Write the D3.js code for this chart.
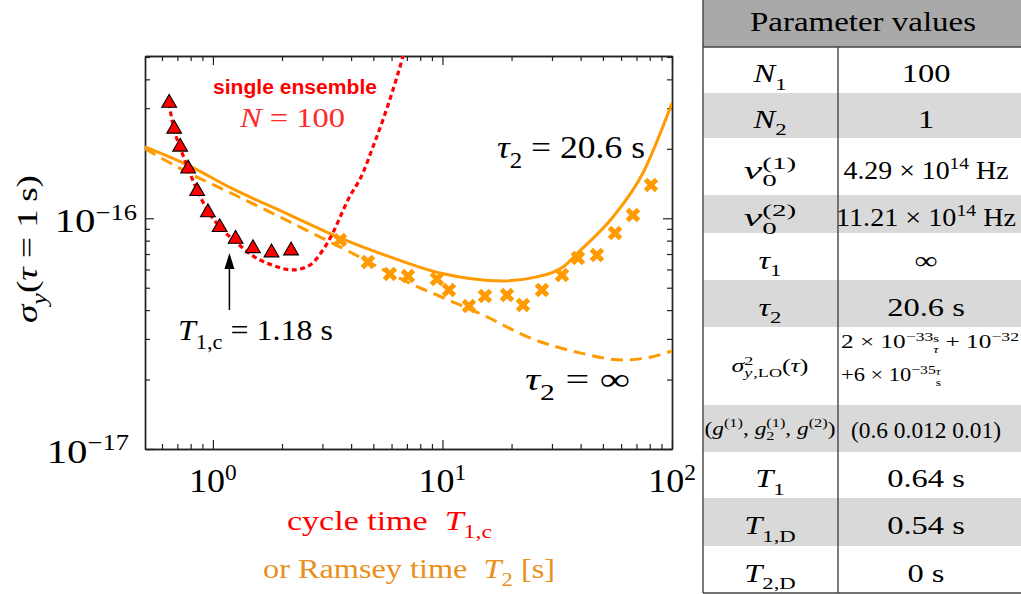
<!DOCTYPE html>
<html>
<head>
<meta charset="utf-8">
<script src="https://cdn.jsdelivr.net/npm/d3@7"></script>
<style>
body { margin: 0; background: #fff; }
</style>
</head>
<body>
<div id="chart"></div>
<script>
// measured points: single ensemble (red triangles)
var cycleTimes = [0.645, 0.678, 0.72, 0.78, 0.854, 0.951, 1.07, 1.256, 1.494, 1.80, 2.19];
var cycleSigma = [3.16e-16, 2.44e-16, 2.04e-16, 1.64e-16, 1.31e-16, 1.06e-16, 9.14e-17, 8.13e-17, 7.41e-17, 7.1e-17, 7.24e-17];

// measured points: Ramsey time (orange crosses)
var ramseyTimes = [3.576, 4.736, 5.905, 7.074, 9.46, 10.67, 13.05, 15.32, 19.1, 22.43, 27.14, 33.17, 38.95, 47.1, 56.45, 67.6, 81.0];
var ramseySigma = [8.05e-17, 6.46e-17, 5.73e-17, 5.62e-17, 5.46e-17, 4.89e-17, 4.17e-17, 4.6e-17, 4.65e-17, 4.21e-17, 4.89e-17, 5.68e-17, 6.73e-17, 6.93e-17, 8.64e-17, 1.033e-16, 1.394e-16];

// model curve, single ensemble N = 100 (red dotted)
var singleT = [0.643, 0.676, 0.718, 0.778, 0.852, 0.951, 1.073, 1.26, 1.494, 1.807, 2.232, 2.647, 3.016, 3.334, 3.648, 3.874, 4.505, 4.98, 5.505, 6.026, 6.73, 6.93];
var singleSigma = [3.16e-16, 2.44e-16, 2.04e-16, 1.65e-16, 1.33e-16, 1.076e-16, 9.17e-17, 7.89e-17, 6.87e-17, 6.27e-17, 5.97e-17, 6.27e-17, 7.29e-17, 8.64e-17, 1.054e-16, 1.2e-16, 1.572e-16, 2.04e-16, 2.67e-16, 3.49e-16, 5.05e-16, 5.64e-16];

// model curve, tau2 = 20.6 s (orange solid)
var tau2T = [0.5055, 0.778, 1.222, 2.165, 3.576, 5.905, 9.75, 18.35, 25.8, 33.5, 39.7, 55.3, 74.7, 100];
var tau2Sigma = [2.04e-16, 1.70e-16, 1.34e-16, 1.033e-16, 8.22e-17, 6.80e-17, 5.79e-17, 5.35e-17, 5.57e-17, 6.15e-17, 7.22e-17, 1.013e-16, 1.572e-16, 3.16e-16];

// model curve, tau2 = infinity (orange dashed)
var tauInfT = [0.5055, 0.770, 1.222, 2.165, 2.647, 3.954, 7.98, 9.46, 11.92, 15.02, 24.06, 39.72, 61.2, 80.2, 100];
var tauInfSigma = [2.0e-16, 1.588e-16, 1.274e-16, 9.64e-17, 8.72e-17, 7.14e-17, 4.99e-17, 4.65e-17, 4.21e-17, 3.81e-17, 3.03e-17, 2.61e-17, 2.43e-17, 2.50e-17, 2.66e-17];

var optimalCycle = 1.18;

var xMajor = [1, 10, 100];
var xMinor = [0.6, 0.7, 0.8, 0.9, 2, 3, 4, 5, 6, 7, 8, 9, 20, 30, 40, 50, 60, 70, 80, 90];
var yMajor = [1e-17, 1e-16];
var yMinor = [2e-17, 3e-17, 4e-17, 5e-17, 6e-17, 7e-17, 8e-17, 9e-17, 2e-16, 3e-16, 4e-16, 5e-16];

// rich text helpers
function T(t) { return {t: t}; }
function I(t) { return {t: t, i: 1}; }
function SUB(t, it) { return {t: t, lv: 0.3, sz: 0.7, i: it}; }
function SUP(t) { return {t: t, lv: -0.4, sz: 0.7}; }
function SUBB(t, it) { return {t: t, lv: 0.3, sz: 0.7, i: it, back: 1}; }
function NUM(t, it) { return {t: t, lv: -0.35, sz: 0.6, i: it}; }
function DEN(t, it) { return {t: t, lv: 0.3, sz: 0.6, i: it, back: 1}; }

var paramHeader = "Parameter values";
var paramNames = [
    [I("N"), SUB("1")],
    [I("N"), SUB("2")],
    [I("ν"), SUP("(1)"), SUBB("0")],
    [I("ν"), SUP("(2)"), SUBB("0")],
    [I("τ"), SUB("1")],
    [I("τ"), SUB("2")],
    [I("σ"), SUP("2"), SUBB("y", 1), SUB(",LO"), T("("), I("τ"), T(")")],
    [T("("), I("g"), SUP("(1)"), T(", "), I("g"), SUP("(1)"), SUBB("2"), T(", "), I("g"), SUP("(2)"), T(")")],
    [I("T"), SUB("1")],
    [I("T"), SUB("1,D")],
    [I("T"), SUB("2,D")]
];
var paramValues = [
    [[T("100")]],
    [[T("1")]],
    [[T("4.29 × 10"), SUP("14"), T("\u00a0Hz")]],
    [[T("11.21 × 10"), SUP("14"), T("\u00a0Hz")]],
    [[T("∞")]],
    [[T("20.6\u00a0s")]],
    [[T("2 × 10"), SUP("−33"), NUM("s"), DEN("τ", 1), T(" + 10"), SUP("−32")],
     [T("+6 × 10"), SUP("−35"), NUM("τ", 1), DEN("s")]],
    [[T("(0.6 0.012 0.01)")]],
    [[T("0.64\u00a0s")]],
    [[T("0.54\u00a0s")]],
    [[T("0\u00a0s")]]
];

var serif = "'Liberation Serif', 'Times New Roman', Times, serif";

// builds sub/superscripts as tspans; len = exact width, or stretch = factor on natural width
function rich(sel, segs, fs, len, stretch) {
    var level = 0, prevLen = 0, pend = 0;
    sel.attr("font-family", serif);
    segs.forEach(function(s) {
        var target = (s.lv || 0) * fs;
        var ts = sel.append("tspan").text(s.t)
            .attr("dy", target - level)
            .attr("font-size", (s.sz || 1) * fs);
        if (s.i) ts.attr("font-style", "italic");
        if (s.back) ts.attr("dx", -prevLen);
        else if (pend) { ts.attr("dx", pend); pend = 0; }
        var w = ts.node().getComputedTextLength();
        if (s.back) pend = Math.max(0, prevLen - w);
        prevLen = w;
        level = target;
    });
    if (!len && stretch) len = sel.node().getComputedTextLength() * stretch;
    if (len) sel.attr("textLength", len).attr("lengthAdjust", "spacingAndGlyphs");
    return sel;
}

var totalWidth = 1021, totalHeight = 594;
var margin = {top: 56, left: 145, right: 672, bottom: 449};
var orange = "#ff9a00", red = "#ff0000";

var svg = d3.select("#chart").append("svg")
    .attr("width", totalWidth)
    .attr("height", totalHeight)
    .attr("font-family", serif)
    .style("background", "#fff");

var x = d3.scaleLog().domain([0.506, 100]).range([margin.left, margin.right]);
var y = d3.scaleLog().domain([1e-17, 5.05e-16]).range([margin.bottom, margin.top]);

svg.append("clipPath").attr("id", "plotclip").append("rect")
    .attr("x", margin.left).attr("y", margin.top)
    .attr("width", margin.right - margin.left)
    .attr("height", margin.bottom - margin.top);

// axes: major and minor ticks, all pointing inward
function styleAxis(g) {
    g.selectAll("path.domain").attr("stroke", "#222").attr("stroke-width", 1.4);
    g.selectAll(".tick line").attr("stroke", "#222").attr("stroke-width", 1.2);
    g.selectAll(".tick text").remove();
}
[[xMajor, 9], [xMinor, 5]].forEach(function(p) {
    svg.append("g").attr("transform", "translate(0," + margin.bottom + ")")
        .call(d3.axisBottom(x).tickValues(p[0]).tickSize(-p[1]).tickSizeOuter(0)).call(styleAxis);
    svg.append("g").attr("transform", "translate(0," + margin.top + ")")
        .call(d3.axisTop(x).tickValues(p[0]).tickSize(-p[1]).tickSizeOuter(0)).call(styleAxis);
});
[[yMajor, 9], [yMinor, 5]].forEach(function(p) {
    svg.append("g").attr("transform", "translate(" + margin.left + ",0)")
        .call(d3.axisLeft(y).tickValues(p[0]).tickSize(-p[1]).tickSizeOuter(0)).call(styleAxis);
    svg.append("g").attr("transform", "translate(" + margin.right + ",0)")
        .call(d3.axisRight(y).tickValues(p[0]).tickSize(-p[1]).tickSizeOuter(0)).call(styleAxis);
});

// tick labels 10^n
svg.append("g").selectAll("text").data(xMajor).enter().append("text")
    .attr("x", function(d) { return x(d); })
    .attr("y", 492)
    .attr("text-anchor", "middle")
    .each(function(d) {
        rich(d3.select(this), [T("10"), {t: String(Math.round(Math.log10(d))), lv: -0.36, sz: 0.65}], 34, null, 1.06);
    });
svg.append("g").selectAll("text").data(yMajor).enter().append("text")
    .attr("x", function(d, i) { return i ? 137 : 129; })
    .attr("y", function(d) { return y(d) + 13.5; })
    .attr("text-anchor", "end")
    .each(function(d) {
        rich(d3.select(this), [T("10"), {t: "−" + Math.abs(Math.round(Math.log10(d))), lv: -0.36, sz: 0.65}], 34, null, 1.2);
    });

// curves
var line = d3.line().curve(d3.curveMonotoneX)
    .x(function(d) { return x(d[0]); })
    .y(function(d) { return y(d[1]); });
var curves = svg.append("g").attr("clip-path", "url(#plotclip)");

curves.append("path")
    .attr("d", line(d3.zip(tauInfT, tauInfSigma)))
    .attr("fill", "none").attr("stroke", orange).attr("stroke-width", 3)
    .attr("stroke-dasharray", "12,7");
curves.append("path")
    .attr("d", line(d3.zip(tau2T, tau2Sigma)))
    .attr("fill", "none").attr("stroke", orange).attr("stroke-width", 3);
curves.append("path")
    .attr("d", line(d3.zip(singleT, singleSigma)))
    .attr("fill", "none").attr("stroke", red).attr("stroke-width", 3.2)
    .attr("stroke-dasharray", "5,3.5");

// markers
svg.append("g").selectAll("path").data(d3.zip(ramseyTimes, ramseySigma)).enter().append("path")
    .attr("d", "M-5.5,-5.5L5.5,5.5M-5.5,5.5L5.5,-5.5")
    .attr("transform", function(d) { return "translate(" + x(d[0]) + "," + y(d[1]) + ")"; })
    .attr("stroke", orange).attr("stroke-width", 5).attr("fill", "none");
svg.append("g").selectAll("path").data(d3.zip(cycleTimes, cycleSigma)).enter().append("path")
    .attr("d", d3.symbol(d3.symbolTriangle, 95))
    .attr("transform", function(d) { return "translate(" + x(d[0]) + "," + y(d[1]) + ")"; })
    .attr("fill", "#ff0000").attr("stroke", "#000").attr("stroke-width", 1.1);

// annotations
svg.append("text").attr("x", 213).attr("y", 94)
    .attr("textLength", 164).attr("lengthAdjust", "spacingAndGlyphs")
    .attr("font-family", "'Liberation Sans', Arial, sans-serif")
    .attr("font-weight", "bold").attr("font-size", 20)
    .attr("fill", red).text("single ensemble");
rich(svg.append("text").attr("x", 240).attr("y", 127).attr("fill", "#ff2a2a"),
    [I("N"), T(" = 100")], 27, 105);
rich(svg.append("text").attr("x", 497).attr("y", 158).attr("fill", "#000"),
    [I("τ"), SUB("2"), T(" = 20.6 s")], 32, 148);
rich(svg.append("text").attr("x", 525).attr("y", 390).attr("fill", "#000"),
    [I("τ"), SUB("2"), T(" = ∞")], 32, 105);
rich(svg.append("text").attr("x", 178).attr("y", 340).attr("fill", "#000"),
    [I("T"), SUB("1,c"), T(" = 1.18 s")], 30, 155);

var ax = x(optimalCycle);
svg.append("line").attr("x1", ax).attr("x2", ax).attr("y1", 310).attr("y2", 266)
    .attr("stroke", "#000").attr("stroke-width", 1.5);
svg.append("path")
    .attr("d", "M" + ax + ",253L" + (ax - 5) + ",269L" + (ax + 5) + ",269Z")
    .attr("fill", "#000");

// axis titles
rich(svg.append("text").attr("transform", "translate(37,249) rotate(-90)")
    .attr("text-anchor", "middle").attr("fill", "#000"),
    [I("σ"), SUB("y", 1), T("("), I("τ"), T(" = 1\u2009s)")], 30, 148);
rich(svg.append("text").attr("x", 287).attr("y", 530).attr("fill", red),
    [T("cycle time\u00a0\u00a0"), I("T"), SUB("1,c")], 28, 205);
rich(svg.append("text").attr("x", 263).attr("y", 578).attr("fill", "#e8901a"),
    [T("or Ramsey time\u00a0\u00a0"), I("T"), SUB("2"), T("\u00a0[s]")], 28, 292);

// parameter table
var tLeft = 703, tMid = 838, tRight = 1021;
var rowEdges = [0, 47, 93, 138, 195, 233, 280, 327, 405, 452, 498, 546, 593];
var table = svg.append("g");
table.append("rect").attr("x", tLeft).attr("y", 0).attr("width", tRight - tLeft).attr("height", 47)
    .attr("fill", "#a9a9a9");
table.selectAll("rect.row").data(paramNames).enter().append("rect").attr("class", "row")
    .attr("x", tLeft).attr("width", tRight - tLeft)
    .attr("y", function(d, i) { return rowEdges[i + 1]; })
    .attr("height", function(d, i) { return rowEdges[i + 2] - rowEdges[i + 1]; })
    .attr("fill", function(d, i) { return i % 2 ? "#d9d9d9" : "#fff"; });
[[tLeft, 47, tRight, 47], [tLeft, 593, tRight, 593], [tLeft, 0, tLeft, 593], [tMid, 47, tMid, 593]]
    .forEach(function(l) {
        table.append("line").attr("x1", l[0]).attr("y1", l[1]).attr("x2", l[2]).attr("y2", l[3])
            .attr("stroke", "#444").attr("stroke-width", 1.4);
    });
table.append("text").attr("x", 863).attr("y", 31).attr("text-anchor", "middle")
    .attr("font-family", serif)
    .attr("textLength", 226).attr("lengthAdjust", "spacingAndGlyphs")
    .attr("font-size", 28).text(paramHeader);

var valueWidths = {2: 165, 3: 180, 7: 150};
paramNames.forEach(function(segs, i) {
    var top = rowEdges[i + 1], bot = rowEdges[i + 2], mid = (top + bot) / 2;
    var small = segs.length > 5;
    var t = table.append("text").attr("x", 770).attr("y", mid + (small ? 6 : 12))
        .attr("text-anchor", "middle").attr("fill", "#000");
    rich(t, segs, small ? 18 : 25, i === 6 ? 77 : i === 7 ? 131 : null, 1.3);

    var vals = paramValues[i];
    if (vals.length === 2) {
        rich(table.append("text").attr("x", 841).attr("y", top + 21).attr("fill", "#000"), vals[0], 18, 178);
        rich(table.append("text").attr("x", 841).attr("y", top + 54).attr("fill", "#000"), vals[1], 18, 100);
    } else {
        var fs = i === 7 ? 23 : 25;
        rich(table.append("text").attr("x", 926).attr("y", mid + (i === 7 ? 9 : 12))
            .attr("text-anchor", "middle").attr("fill", "#000"), vals[0], fs, valueWidths[i], 1.3);
    }
});
</script>
</body>
</html>
